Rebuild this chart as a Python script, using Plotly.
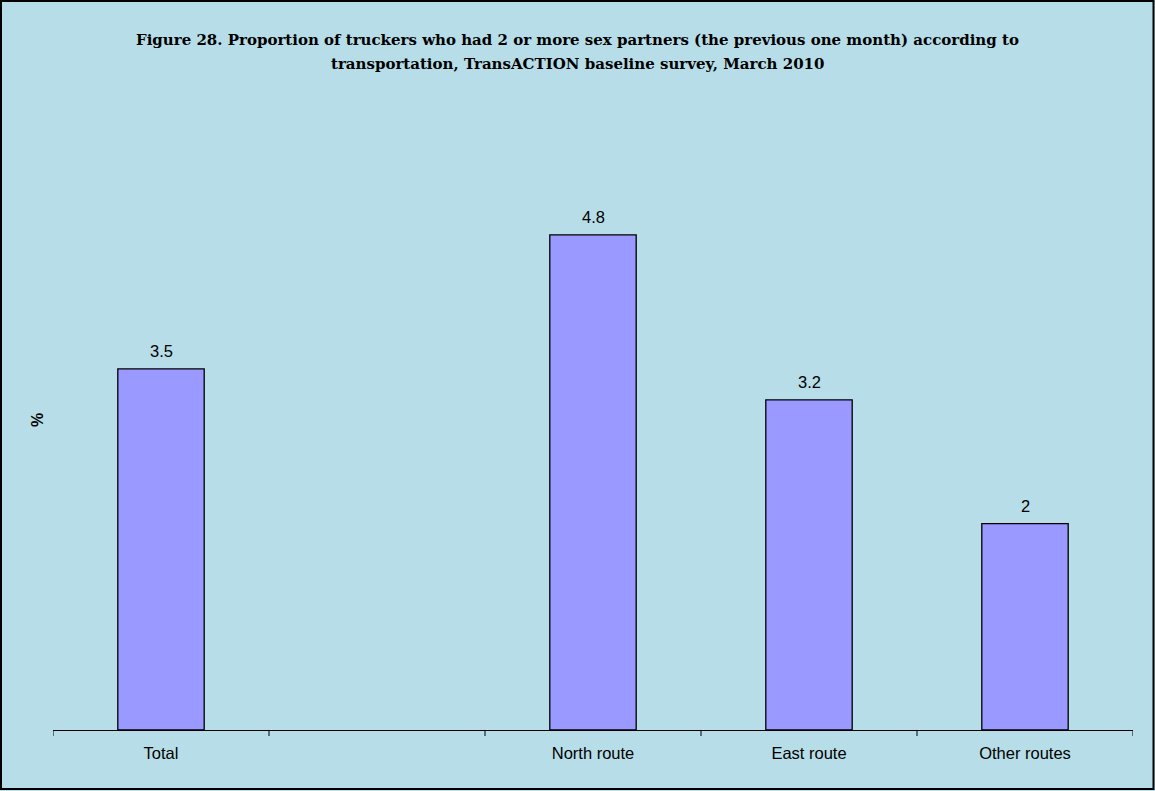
import plotly.graph_objects as go

# Categories along the x axis (second slot is intentionally blank)
categories = ["Total", " ", "North route", "East route", "Other routes"]
values = [3.5, None, 4.8, 3.2, 2]

title_lines = [
    "Figure 28. Proportion of truckers who had 2 or more sex partners "
    "(the previous one month) according to",
    "transportation, TransACTION baseline survey, March 2010",
]

W, H = 1155, 791
ml, mr, mt, mb = 53, 22, 111, 61
pw, ph = W - ml - mr, H - mt - mb

LABEL_FONT = "Liberation Sans, Arial, sans-serif"
TITLE_FONT = "DejaVu Serif, serif"


def px_x(v):
    return (v - ml) / pw


def px_y(v):
    return (H - mb - v) / ph


fig = go.Figure()
fig.add_trace(go.Bar(
    x=list(range(len(categories))),
    y=values,
    width=0.4,
    marker=dict(color="#9999FF", line=dict(color="#000000", width=1.3)),
    hoverinfo="skip",
))

# category boundary ticks
tick_bounds = [i - 0.5 for i in range(len(categories) + 1)]

shapes = [
    # outer border
    dict(type="rect", xref="paper", yref="paper",
         x0=px_x(1), x1=px_x(W - 1.5), y0=px_y(1), y1=px_y(H - 2),
         line=dict(color="#000000", width=2), fillcolor="rgba(0,0,0,0)", layer="above"),
]
for b in tick_bounds:
    shapes.append(dict(type="line", xref="x", yref="paper",
                       x0=b, x1=b, y0=0, y1=-6 / ph,
                       line=dict(color="#000000", width=1)))

annotations = []
# value labels above each bar
for i, v in enumerate(values):
    if v is None:
        continue
    annotations.append(dict(
        x=i, y=v, xref="x", yref="y", text=f"{v:g}",
        showarrow=False, xanchor="center", yanchor="bottom", yshift=7,
        font=dict(family=LABEL_FONT, size=16.5, color="#000000"),
    ))

# two-line bold title
for line, yc in zip(title_lines, [40.5, 63.5]):
    annotations.append(dict(
        x=px_x(W / 2), y=px_y(yc), xref="paper", yref="paper",
        text=f"<b>{line}</b>", showarrow=False,
        xanchor="center", yanchor="middle",
        font=dict(family=TITLE_FONT, size=15, color="#000000"),
    ))

# y-axis label
annotations.append(dict(
    text="<b>%</b>", xref="paper", yref="paper",
    x=px_x(37), y=px_y(420), xanchor="center", yanchor="middle",
    showarrow=False, textangle=-90,
    font=dict(family=LABEL_FONT, size=16, color="#000000"),
))

fig.update_layout(
    width=W, height=H,
    margin=dict(l=ml, r=mr, t=mt, b=mb),
    paper_bgcolor="#B7DEE8",
    plot_bgcolor="#B7DEE8",
    showlegend=False,
    bargap=0.6,
    xaxis=dict(
        range=[-0.5, len(categories) - 0.5],
        tickmode="array",
        tickvals=list(range(len(categories))),
        ticktext=categories,
        ticks="",
        ticklabelstandoff=8,
        showgrid=False,
        zeroline=False,
        showline=True,
        linecolor="#000000",
        linewidth=1,
        tickfont=dict(family=LABEL_FONT, size=16.5, color="#000000"),
    ),
    yaxis=dict(
        range=[0, 6],
        showticklabels=False,
        ticks="",
        showgrid=False,
        zeroline=False,
        showline=False,
    ),
    shapes=shapes,
    annotations=annotations,
)

fig.write_html("out.html")
